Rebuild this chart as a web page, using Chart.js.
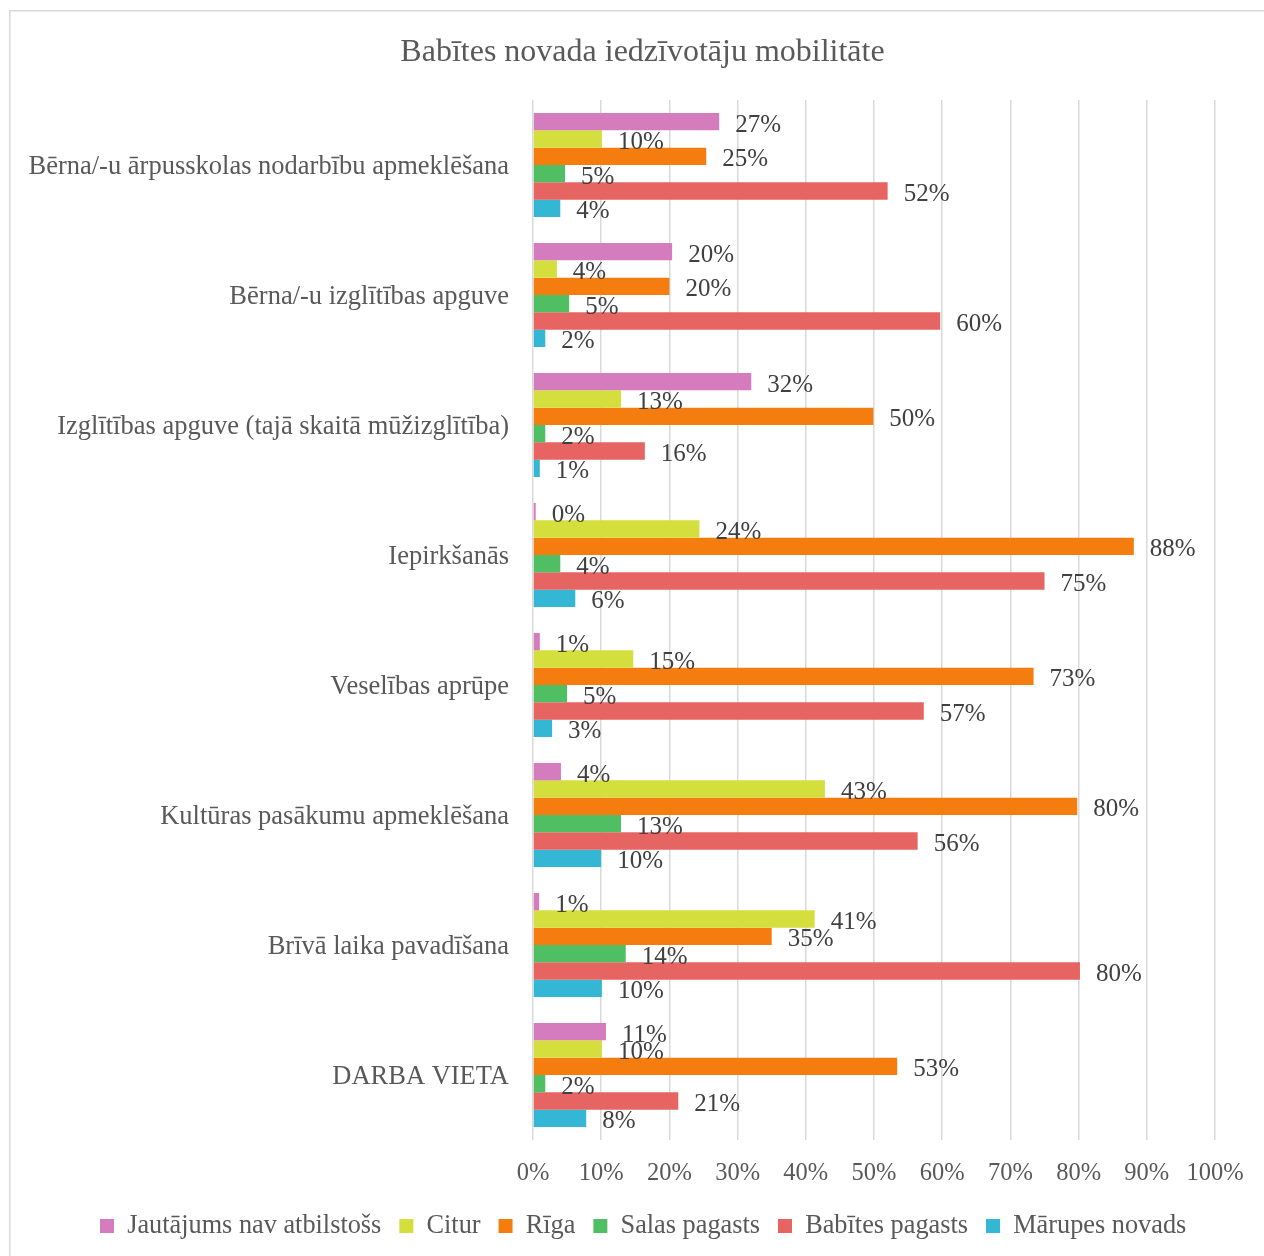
<!DOCTYPE html>
<html>
<head>
<meta charset="utf-8">
<script src="https://cdn.jsdelivr.net/npm/chart.js@4.4.0/dist/chart.umd.min.js"></script>
<style>
  html, body { margin: 0; padding: 0; background: #fff; }
  #wrap { width: 1264px; height: 1256px; position: relative; }
</style>
</head>
<body>
<div id="wrap"><canvas id="myChart" width="1264" height="1256"></canvas></div>
<script>
// kategorijas (no augšas uz leju)
var categories = [
  "Bērna/-u ārpusskolas nodarbību apmeklēšana",
  "Bērna/-u izglītības apguve",
  "Izglītības apguve (tajā skaitā mūžizglītība)",
  "Iepirkšanās",
  "Veselības aprūpe",
  "Kultūras pasākumu apmeklēšana",
  "Brīvā laika pavadīšana",
  "DARBA VIETA"
];

// vērtības procentos
var jautajums = [27.3, 20.4, 32.0, 0.4, 1.0, 4.1, 0.9, 10.7];
var citur = [10.1, 3.5, 12.9, 24.4, 14.7, 42.8, 41.3, 10.1];
var riga = [25.4, 20.0, 49.9, 88.1, 73.4, 79.8, 35.0, 53.4];
var salas = [4.7, 5.3, 1.8, 4.0, 5.0, 12.9, 13.6, 1.8];
var babites = [52.0, 59.7, 16.4, 75.0, 57.3, 56.4, 80.2, 21.3];
var marupes = [4.0, 1.8, 1.0, 6.2, 2.8, 10.0, 10.1, 7.8];

var xTicks = [0, 10, 20, 30, 40, 50, 60, 70, 80, 90, 100];

var serif = "'Liberation Serif', 'Times New Roman', serif";
Chart.defaults.font.family = serif;
Chart.defaults.color = "#595959";

// rāmis ap visu diagrammu
var frame = {
  id: "frame",
  beforeDraw: function (chart) {
    var ctx = chart.ctx;
    ctx.save();
    ctx.fillStyle = "#ffffff";
    ctx.fillRect(0, 0, chart.width, chart.height);
    ctx.strokeStyle = "#d9d9d9";
    ctx.lineWidth = 1.5;
    ctx.strokeRect(9.75, 10.75, 1400, 1400);
    ctx.restore();
  }
};

// virsraksts un leģenda centrēti pa visu rāmi, nevis tikai pa zīmēšanas laukumu
var shiftBlocks = {
  id: "shiftBlocks",
  afterLayout: function (chart) {
    if (chart.titleBlock) {
      chart.titleBlock.left = 21;
      chart.titleBlock.right = 1264;
    }
    if (chart.legend) {
      chart.legend.left = 82;
    }
  }
};

// datu etiķetes aiz stabiņa gala
var valueLabels = {
  id: "valueLabels",
  afterDatasetsDraw: function (chart) {
    var ctx = chart.ctx;
    ctx.save();
    ctx.font = "25px " + serif;
    ctx.fillStyle = "#404040";
    ctx.textAlign = "left";
    ctx.textBaseline = "middle";
    chart.data.datasets.forEach(function (ds, i) {
      var meta = chart.getDatasetMeta(i);
      meta.data.forEach(function (bar, j) {
        ctx.fillText(Math.round(ds.data[j]) + "%", bar.x + 16, bar.y + 3.5);
      });
    });
    ctx.restore();
  }
};

function makeSet(label, data, color) {
  return {
    label: label,
    data: data,
    backgroundColor: color,
    borderWidth: 0
  };
}

var ctx = document.getElementById("myChart").getContext("2d");
var chart = new Chart(ctx, {
  type: "bar",
  data: {
    labels: categories,
    datasets: [
      makeSet("Jautājums nav atbilstošs", jautajums, "#d57cbe"),
      makeSet("Citur", citur, "#d4de3c"),
      makeSet("Rīga", riga, "#f57d0f"),
      makeSet("Salas pagasts", salas, "#50bf64"),
      makeSet("Babītes pagasts", babites, "#e66462"),
      makeSet("Mārupes novads", marupes, "#34b7d4")
    ]
  },
  options: {
    indexAxis: "y",
    responsive: false,
    animation: false,
    layout: { padding: { left: 0, right: 49, top: 0, bottom: 6.85 } },
    datasets: { bar: { categoryPercentage: 0.8, barPercentage: 1.0 } },
    scales: {
      x: {
        min: 0,
        max: 100,
        afterBuildTicks: function (scale) {
          scale.ticks = xTicks.map(function (v) { return { value: v }; });
        },
        afterFit: function (scale) { scale.height = 54.85; },
        grid: { color: "#d9d9d9", lineWidth: 1.5, drawTicks: false },
        border: { display: false },
        ticks: {
          padding: 18.5,
          color: "#595959",
          font: { size: 24.5 },
          callback: function (v) { return v + "%"; }
        }
      },
      y: {
        afterFit: function (scale) { scale.width = 533; },
        grid: { display: false, drawTicks: false },
        border: { display: false },
        ticks: { padding: 24, labelOffset: 2, color: "#595959", font: { size: 26.5 } }
      }
    },
    plugins: {
      title: {
        display: true,
        text: "Babītes novada iedzīvotāju mobilitāte",
        color: "#595959",
        font: { size: 32, weight: "normal" },
        padding: { top: 33.6, bottom: 28 }
      },
      legend: {
        position: "bottom",
        align: "start",
        labels: {
          boxWidth: 14,
          boxHeight: 14,
          padding: 18,
          color: "#595959",
          font: { size: 26.3 }
        }
      },
      tooltip: { enabled: false }
    }
  },
  plugins: [frame, shiftBlocks, valueLabels]
});
</script>
</body>
</html>
